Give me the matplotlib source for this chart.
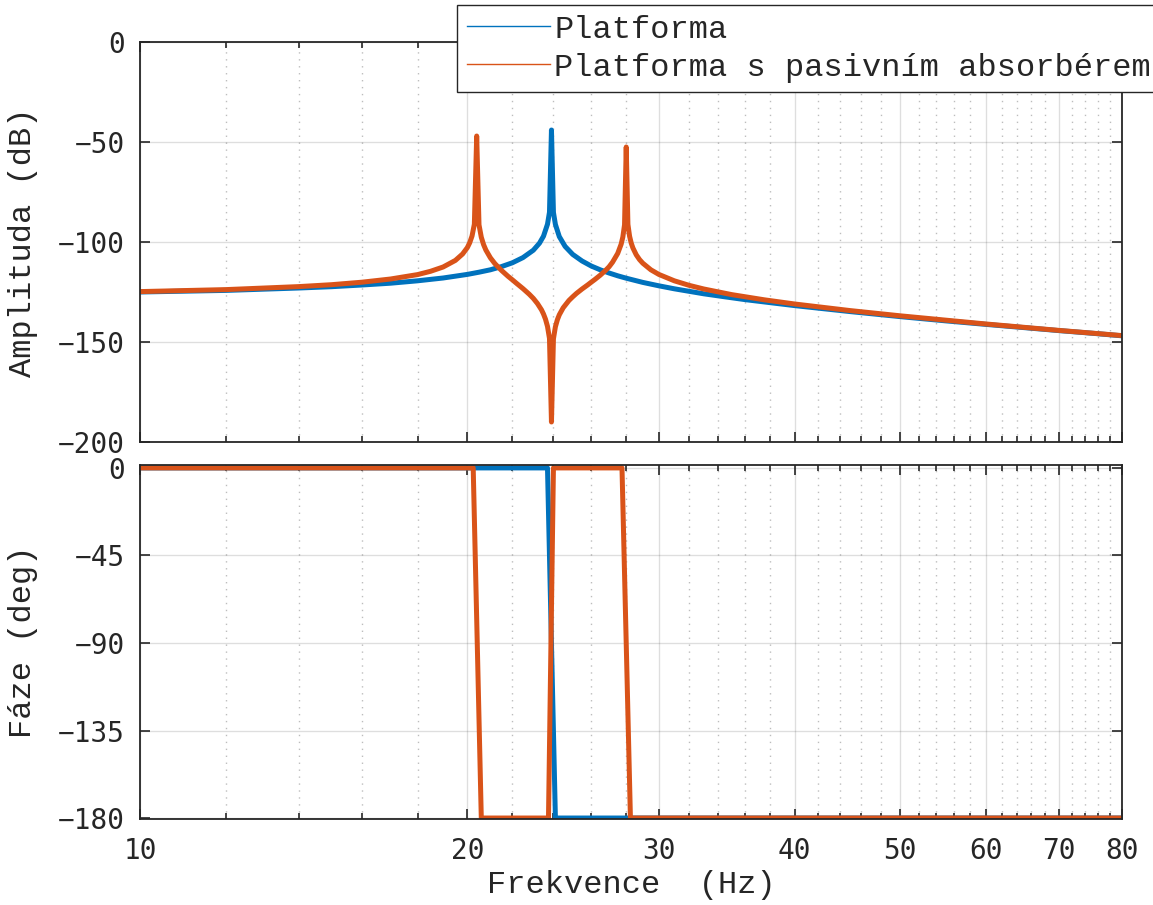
import numpy as np
import matplotlib
matplotlib.use("Agg")
import matplotlib.pyplot as plt
from matplotlib.ticker import FixedLocator, NullFormatter

# Frekvence a amplitudy
freq_plat = [10, 12, 14, 15, 16, 17, 18, 19, 20, 20.5,
             21, 21.5, 22, 22.5, 23, 23.3, 23.5, 23.7, 23.8, 23.9,
             24.0, 24.1, 24.3, 24.6, 25, 25.5, 26, 26.5, 27, 27.5,
             28, 29, 30, 31, 33, 34.5, 36, 40, 45, 50,
             55, 60, 65, 70, 75, 80]
amp_plat = [-125.0, -124.2, -123.0, -122.35, -121.5, -120.6, -119.4, -118.0, -116.2, -115.1,
            -113.9, -112.3, -110.4, -107.8, -104.1, -100.6, -97.1, -91.1, -85.1, -44.0,
            -85.2, -91.2, -97.3, -102.2, -106.2, -109.5, -112.0, -113.9, -115.5, -116.9,
            -118.1, -120.2, -121.9, -123.4, -125.9, -127.4, -128.8, -131.8, -134.8, -137.3,
            -139.4, -141.2, -142.8, -144.3, -145.6, -146.9]

freq_abs = [10, 12, 14, 15, 16, 17, 18, 18.5, 19, 19.5,
            19.8, 20, 20.1, 20.2, 20.3, 20.4, 20.5, 20.6, 20.7, 20.8,
            21, 21.2, 21.5, 21.8, 22, 22.2, 22.5, 22.8, 23, 23.2,
            23.4, 23.5, 23.6, 23.7, 23.8, 23.9, 24.0, 24.1, 24.2, 24.3,
            24.5, 24.8, 25, 25.2, 25.5, 25.8, 26, 26.2, 26.5, 26.8,
            27, 27.2, 27.5, 27.7, 27.8, 27.9, 28.0, 28.1, 28.2, 28.3,
            28.4, 28.6, 28.8, 29, 29.5, 30, 31, 32, 33, 35,
            37.5, 40, 45, 50, 60, 70, 80]
amp_abs = [-124.8, -123.8, -122.3, -121.35, -120.1, -118.5, -116.3, -114.65, -112.5, -109.2,
           -106.0, -102.8, -100.4, -97.0, -91.1, -47.0, -91.4, -97.6, -101.3, -104.0,
           -107.9, -110.8, -114.2, -117.15, -118.9, -120.7, -123.3, -126.1, -128.2, -130.75,
           -133.9, -136.0, -138.6, -142.2, -148.2, -190.0, -148.4, -142.4, -138.9, -136.4,
           -132.9, -129.25, -127.4, -125.7, -123.5, -121.5, -120.1, -118.75, -116.6, -114.2,
           -112.4, -110.1, -105.7, -101.1, -97.5, -91.4, -52.5, -91.2, -97.15, -100.6,
           -103.0, -106.4, -108.8, -110.6, -113.9, -116.2, -119.4, -121.7, -123.5, -126.3,
           -128.9, -131.0, -134.3, -136.9, -141.0, -144.2, -146.8]

# Faze
fph_plat = [10, 23.7, 24.1, 80]
ph_plat = [0, 0, -180, -180]
fph_abs = [10, 20.25, 20.6, 23.75, 24.0, 27.75, 28.25, 80]
ph_abs = [0, 0, -180, -180, 0, 0, -180, -180]

labels = ["Platforma", "Platforma s pasivním absorbérem"]
blue = "#0072BD"
orange = "#D95319"
axc = "#262626"

label_font = "Liberation Mono"
tick_font = "DejaVu Sans Mono"

fig = plt.figure(figsize=(11.53, 9.05), dpi=100)
W, H = 1153, 905
ax1 = fig.add_axes([140 / W, 1 - 442 / H, 982 / W, 400 / H])
ax2 = fig.add_axes([140 / W, 1 - 819 / H, 982 / W, 354 / H])

minor = [f for f in range(12, 80, 2) if f % 10 != 0]
major = [10, 20, 30, 40, 50, 60, 70, 80]

for ax in (ax1, ax2):
    ax.set_xscale("log")
    ax.set_xlim(10, 80)
    ax.xaxis.set_major_locator(FixedLocator(major))
    ax.xaxis.set_minor_locator(FixedLocator(minor))
    ax.xaxis.set_minor_formatter(NullFormatter())
    ax.grid(True, which="major", color=axc, alpha=0.15, linewidth=1)
    ax.grid(True, which="minor", axis="x", color=axc, alpha=0.3,
            linewidth=1, linestyle=(0, (1, 4)))
    ax.tick_params(which="both", direction="in", top=True, right=True,
                   color=axc, width=1.2, labelsize=20, labelcolor=axc)
    ax.tick_params(which="major", length=7)
    ax.tick_params(which="minor", length=4)
    ax.tick_params(axis="y", pad=11)
    ax.tick_params(axis="x", pad=13)
    for s in ax.spines.values():
        s.set_color(axc)
        s.set_linewidth(1.3)
    ax.set_axisbelow(True)

ax1.plot(freq_plat, amp_plat, color=blue, linewidth=3.6)
ax1.plot(freq_abs, amp_abs, color=orange, linewidth=3.6)
ax1.set_ylim(-200, 0)
ax1.set_yticks([0, -50, -100, -150, -200])
ax1.xaxis.set_major_formatter(NullFormatter())

ax2.plot(fph_plat, ph_plat, color=blue, linewidth=3.6)
ax2.plot(fph_abs, ph_abs, color=orange, linewidth=3.6)
ax2.set_ylim(-180.5, 1.5)
ax2.set_yticks([0, -45, -90, -135, -180])
ax2.set_xticklabels([str(m) for m in major])

for ax in (ax1, ax2):
    for t in ax.get_xticklabels() + ax.get_yticklabels():
        t.set_fontfamily(tick_font)

ax1.set_ylabel("Amplituda (dB)", family=label_font, fontsize=23, color=axc)
ax2.set_ylabel("Fáze (deg)", family=label_font, fontsize=23, color=axc)
ax1.yaxis.set_label_coords(-0.104, 0.5)
ax2.yaxis.set_label_coords(-0.104, 0.5)
ax2.set_xlabel("Frekvence  (Hz)", family=label_font, fontsize=23, color=axc)
ax2.xaxis.set_label_coords(0.5, -0.145)

thin1 = plt.Line2D([], [], color=blue, linewidth=1)
thin2 = plt.Line2D([], [], color=orange, linewidth=1)
leg = fig.legend([thin1, thin2], labels, loc="upper left",
                 bbox_to_anchor=(457 / W, 1 - 5 / H),
                 prop={"family": label_font, "size": 23},
                 frameon=True, fancybox=False, framealpha=1,
                 edgecolor=axc, handlelength=2.6, handletextpad=0.15,
                 borderpad=0.3, labelspacing=0.25, borderaxespad=0)
leg.get_frame().set_linewidth(1)
for t in leg.get_texts():
    t.set_color(axc)

fig.savefig("out.png", dpi=100)
